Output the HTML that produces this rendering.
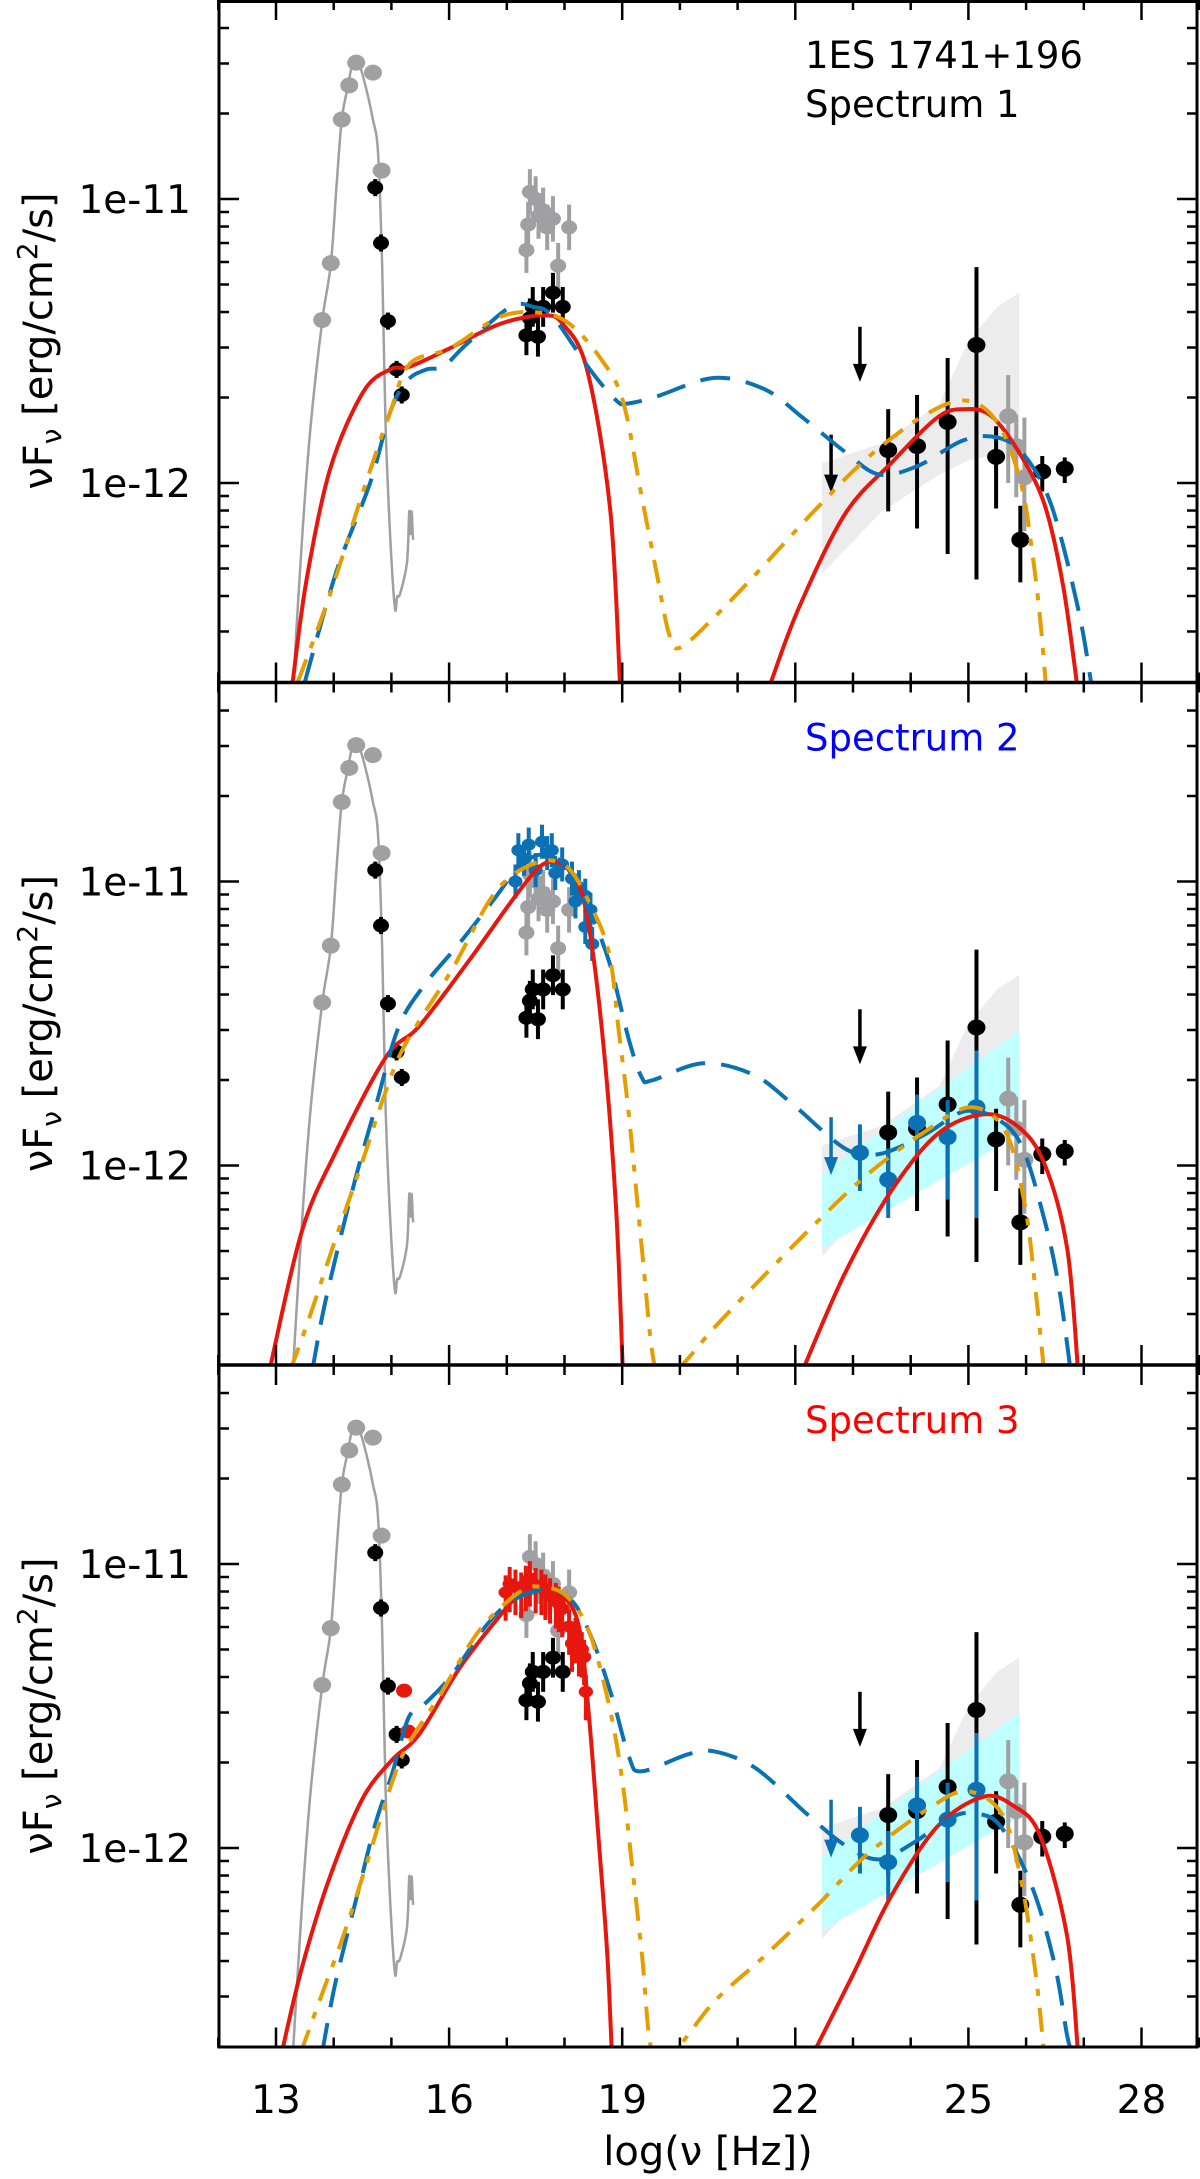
<!DOCTYPE html>
<html><head><meta charset="utf-8"><style>
html,body{margin:0;padding:0;background:#fff;}
svg{display:block;font-family:"DejaVu Sans","Liberation Sans",sans-serif;}
</style></head><body>
<svg id="chart" width="1200" height="2179" viewBox="0 0 1200 2179" xmlns="http://www.w3.org/2000/svg"></svg>
<script>
// ---- data (log nu, log nuFnu) ----
const xTicksMajor = [13,16,19,22,25,28];
const xTickLabels = ["13","16","19","22","25","28"];
const yTickMajor = [-11,-12];
const yTickLabels = ["1e-11","1e-12"];
const panelTitles = [["1ES 1741+196","Spectrum 1"],["Spectrum 2"],["Spectrum 3"]];
const titleColors = ["#000","#0000ff","#ff0000"];

const tmplV = [13.3,13.45,13.6,13.8,13.95,14.05,14.14,14.25,14.33,14.43,14.55,14.68,14.77,14.84,14.9,14.98,15.06,15.1,15.15,15.27,15.31,15.33,15.35,15.37,15.38];
const tmplL = [-12.7,-12.2,-11.8,-11.43,-11.23,-10.95,-10.72,-10.6,-10.52,-10.52,-10.6,-10.72,-10.84,-11.24,-11.8,-12.19,-12.44,-12.4,-12.39,-12.28,-12.1,-12.18,-12.1,-12.18,-12.2];

const optGrayV = [13.80,13.95,14.14,14.27,14.39,14.68,14.83];
const optGrayL = [-11.426,-11.226,-10.72,-10.60,-10.52,-10.555,-10.90];
const optBlackV = [14.72,14.82,14.94,15.09,15.18];
const optBlackL = [-10.96,-11.155,-11.43,-11.60,-11.69];

const xGrayV = [17.4,17.37,17.34,17.63,17.8,17.89,18.08,17.5,17.55,17.7];
const xGrayL = [-10.975,-11.09,-11.18,-11.04,-11.07,-11.235,-11.10,-11.0,-11.06,-11.1];
const xBlackV = [17.34,17.54,17.45,17.63,17.8,17.97,17.4];
const xBlackL = [-11.48,-11.485,-11.38,-11.38,-11.33,-11.38,-11.42];

const gamV = [23.61,24.11,24.64,25.14,25.48,25.9,26.28,26.67];
const gamL = [-11.884,-11.87,-11.785,-11.514,-11.908,-12.20,-11.96,-11.95];
const gamUp = [-11.74,-11.69,-11.56,-11.24,-11.80,-12.08,-11.905,-11.91];
const gamLo = [-12.10,-12.16,-12.25,-12.34,-12.09,-12.35,-12.03,-12.0];
const gamGrayV = [25.69,25.83,25.97];
const gamGrayL = [-11.765,-11.87,-11.98];
const gamGrayUp = [-11.62,-11.76,-11.77];
const gamGrayLo = [-12.0,-12.05,-12.17];
const ulV = [23.12,22.62];
const ulTop = [-11.45,-11.83];
const ulTip = [-11.63,-12.02];

const bandV = [22.46,23.5,24.5,25.0,25.5,25.88];
const bandUp = [-11.93,-11.86,-11.72,-11.5,-11.38,-11.33];
const bandLo = [-12.32,-12.1,-11.97,-11.92,-11.90,-11.88];
const cyanV = [22.46,25.88];
const cyanUp = [-12.03,-11.525];
const cyanLo = [-12.29,-11.89];

const bgV = [23.12,23.61,24.11,24.64,25.14];
const bgL = [-11.955,-12.05,-11.85,-11.90,-11.795];
const bgUp = [-11.855,-11.94,-11.75,-11.77,-11.595];
const bgLo = [-12.09,-12.185,-11.97,-12.12,-12.185];

const xBlueV = [17.2,17.38,17.61,17.78,17.96,18.13,18.25,18.36,18.45,17.15,17.5,17.84,18.19,18.36,18.48,17.3,17.7];
const xBlueL = [-10.89,-10.87,-10.86,-10.89,-10.94,-10.99,-11.02,-11.05,-11.10,-11.0,-10.96,-10.97,-11.07,-11.16,-11.22,-10.92,-10.9];

const xRedV = [16.98,17.15,17.33,17.50,17.67,17.85,17.96,18.08,18.19,18.25,18.34,18.37,18.13,17.05,17.4,17.75,17.25,17.6,17.9,18.3];
const xRedL = [-11.10,-11.08,-11.066,-11.074,-11.097,-11.127,-11.158,-11.22,-11.25,-11.296,-11.327,-11.45,-11.28,-11.07,-11.05,-11.11,-11.09,-11.08,-11.14,-11.3];
const optRedV = [15.22,15.29];
const optRedL = [-11.446,-11.59];

// models panel 1
const red1aV=[13.29,13.53,13.94,14.51,14.98,15.32,16.02,16.88,17.63,17.97,18.39,18.79,18.96];
const red1aL=[-12.70,-12.34,-11.95,-11.68,-11.60,-11.59,-11.525,-11.44,-11.41,-11.44,-11.60,-12.09,-12.70];
const red1bV=[21.58,22.06,22.86,23.66,24.46,24.91,25.37,25.84,26.31,26.64,26.89];
const red1bL=[-12.70,-12.44,-12.11,-11.93,-11.77,-11.74,-11.76,-11.88,-12.07,-12.36,-12.72];
const blue1V=[13.5,14.05,14.63,14.98,15.27,15.61,15.9,16.31,17.06,17.46,17.8,18.44,18.9,19.1,19.6,20.6,21.47,22.13,22.86,23.45,24.12,24.91,25.51,25.98,26.44,26.9,27.14];
const blue1L=[-12.70,-12.31,-12.0,-11.75,-11.64,-11.60,-11.59,-11.51,-11.38,-11.38,-11.415,-11.60,-11.71,-11.72,-11.695,-11.63,-11.67,-11.77,-11.89,-11.97,-11.94,-11.85,-11.84,-11.905,-12.08,-12.44,-12.72];
const orange1V=[13.38,13.94,14.51,14.98,15.32,16.02,16.88,17.58,18.09,18.62,19.01,19.34,19.6,19.81,20.0,20.61,21.41,22.32,23.26,24.25,24.97,25.51,25.91,26.11,26.24,26.35];
const orange1L=[-12.7,-12.39,-12.03,-11.75,-11.58,-11.525,-11.415,-11.40,-11.44,-11.56,-11.71,-12.05,-12.32,-12.53,-12.58,-12.47,-12.30,-12.10,-11.91,-11.76,-11.71,-11.79,-12.0,-12.25,-12.47,-12.73];
// panel 2
const red2aV=[12.91,13.45,14.03,14.9,15.48,16.34,17.21,17.67,18.08,18.37,18.65,18.89,19.01];
const red2aL=[-12.70,-12.23,-11.955,-11.62,-11.51,-11.28,-11.035,-10.935,-10.96,-11.10,-11.525,-12.14,-12.72];
const red2bV=[22.13,22.86,23.66,24.46,25.25,25.84,26.31,26.71,26.9];
const red2bL=[-12.72,-12.38,-12.09,-11.89,-11.82,-11.86,-11.99,-12.29,-12.72];
const blue2V=[13.63,13.86,14.32,14.73,15.13,15.59,16.17,16.75,17.21,17.61,18.02,18.42,18.77,19.12,19.34,19.52,20.4,21.27,21.93,22.86,23.45,24.25,24.91,25.44,25.91,26.31,26.57,26.77];
const blue2L=[-12.72,-12.475,-12.09,-11.79,-11.51,-11.36,-11.22,-11.07,-10.95,-10.905,-10.945,-11.10,-11.28,-11.56,-11.69,-11.70,-11.64,-11.68,-11.78,-11.94,-11.96,-11.89,-11.81,-11.83,-11.925,-12.185,-12.43,-12.72];
const orange2V=[13.25,13.57,14.03,14.49,14.9,15.25,16.05,16.81,17.5,18.02,18.42,18.77,18.94,19.12,19.34,19.58,19.94,20.6,21.4,22.32,23.26,24.25,25.04,25.64,25.98,26.17,26.31];
const orange2L=[-12.72,-12.54,-12.26,-11.99,-11.74,-11.57,-11.31,-11.035,-10.935,-10.945,-11.07,-11.25,-11.525,-11.83,-12.29,-12.72,-12.72,-12.57,-12.40,-12.21,-12.03,-11.88,-11.795,-11.88,-12.14,-12.45,-12.72];
// panel 3
const red3aV=[13.1,13.45,13.92,14.49,15.01,15.48,16.17,16.81,17.21,17.56,17.96,18.25,18.42,18.6,18.74,18.82];
const red3aL=[-12.72,-12.42,-12.11,-11.83,-11.69,-11.60,-11.37,-11.20,-11.11,-11.08,-11.11,-11.22,-11.525,-11.99,-12.37,-12.72];
const red3bV=[22.32,22.99,23.66,24.46,25.25,25.77,26.24,26.71,26.9];
const red3bL=[-12.72,-12.45,-12.17,-11.925,-11.82,-11.85,-11.955,-12.31,-12.72];
const blue3V=[13.8,14.03,14.44,14.73,15.01,15.3,15.59,16.05,16.63,17.09,17.67,18.13,18.48,18.82,19.12,19.34,20.14,20.6,21.32,22.2,22.86,23.45,24.06,24.72,25.18,25.58,26.11,26.5,26.71,26.8];
const blue3L=[-12.72,-12.475,-12.14,-11.91,-11.74,-11.54,-11.49,-11.39,-11.22,-11.13,-11.09,-11.13,-11.265,-11.465,-11.68,-11.73,-11.67,-11.66,-11.72,-11.88,-11.99,-12.04,-11.98,-11.89,-11.88,-11.93,-12.14,-12.415,-12.66,-12.72];
const orange3V=[13.43,13.75,14.2,14.61,14.96,15.25,15.83,16.52,17.21,17.56,18.02,18.42,18.77,19.0,19.17,19.34,19.52,19.88,20.6,21.47,22.39,23.26,24.32,24.97,25.58,25.91,26.17,26.31];
const orange3L=[-12.72,-12.54,-12.29,-12.03,-11.80,-11.65,-11.465,-11.235,-11.10,-11.08,-11.11,-11.235,-11.495,-11.76,-12.06,-12.37,-12.72,-12.72,-12.54,-12.38,-12.20,-12.02,-11.86,-11.80,-11.88,-12.11,-12.45,-12.72];

// ---- geometry ----
const L=219, R=1197, PH=682.5;
const tops=[0,682.5,1365];
function X(v){return 276+(v-13)*57.7;}
function Y(l,p){return tops[p]+199-(l+11)*284;}
const NS="http://www.w3.org/2000/svg";
const svg=document.getElementById('chart');
function mk(tag,attrs,parent){const e=document.createElementNS(NS,tag);for(const k in attrs)e.setAttribute(k,attrs[k]);(parent||svg).appendChild(e);return e;}
function smooth(pts){
  let d="M"+pts[0][0].toFixed(1)+","+pts[0][1].toFixed(1);
  for(let i=0;i<pts.length-1;i++){
    const p0=pts[Math.max(0,i-1)],p1=pts[i],p2=pts[i+1],p3=pts[Math.min(pts.length-1,i+2)];
    const c1=[p1[0]+(p2[0]-p0[0])/6,p1[1]+(p2[1]-p0[1])/6];
    const c2=[p2[0]-(p3[0]-p1[0])/6,p2[1]-(p3[1]-p1[1])/6];
    d+="C"+c1[0].toFixed(1)+","+c1[1].toFixed(1)+" "+c2[0].toFixed(1)+","+c2[1].toFixed(1)+" "+p2[0].toFixed(1)+","+p2[1].toFixed(1);
  }
  return d;
}
function curve(vs,ls,p,style,g,name){
  const pts=vs.map((v,i)=>[X(v),Y(ls[i],p)]);
  const e=mk('path',Object.assign({d:smooth(pts),fill:'none'},style),g);
  
  
}
function band(vs,up,lo,p,fill,g,name){
  let d="M"+vs.map((v,i)=>X(v)+","+Y(up[i],p)).join("L");
  for(let i=vs.length-1;i>=0;i--)d+="L"+X(vs[i])+","+Y(lo[i],p);
  const e=mk('path',{d:d+"Z",fill:fill},g);
  
  
}
function pt(v,l,p,col,r,g,name,up,lo,ex){
  if(up!==undefined){
    const e=mk('line',{x1:X(v),x2:X(v),y1:Y(up,p),y2:Y(lo,p),stroke:col,'stroke-width':4},g);
    
    
  }
  if(ex){const h=mk('line',{x1:X(v)-ex,x2:X(v)+ex,y1:Y(l,p),y2:Y(l,p),stroke:col,'stroke-width':4},g);
    
    }
  const c=mk('ellipse',{cx:X(v),cy:Y(l,p),rx:r+1,ry:r,fill:col},g);
  
  
}
function ul(v,t,b,p,col,g){
  const x=X(v),y1=Y(t,p),y2=Y(b,p);
  const a=mk('line',{x1:x,x2:x,y1:y1,y2:y2-10,stroke:col,'stroke-width':3.5},g);
  
  
  const h=mk('path',{d:`M${x-7},${y2-14}L${x+7},${y2-14}L${x},${y2+4}Z`,fill:col},g);
  
  
}

const RED={stroke:'#e8170e','stroke-width':4};
const BLUE={stroke:'#0a72b4','stroke-width':4,'stroke-dasharray':'30,16'};
const ORANGE={stroke:'#e69d00','stroke-width':4,'stroke-dasharray':'24,12,7,12'};
const models=[
  {ra:[red1aV,red1aL],rb:[red1bV,red1bL],b:[blue1V,blue1L],o:[orange1V,orange1L]},
  {ra:[red2aV,red2aL],rb:[red2bV,red2bL],b:[blue2V,blue2L],o:[orange2V,orange2L]},
  {ra:[red3aV,red3aL],rb:[red3bV,red3bL],b:[blue3V,blue3L],o:[orange3V,orange3L]}
];

for(let p=0;p<3;p++){
  const clip=mk('clipPath',{id:'c'+p});
  mk('rect',{x:L,y:tops[p],width:R-L,height:PH},clip);
  const g=mk('g',{'clip-path':'url(#c'+p+')'});
  
  
  band(bandV,bandUp,bandLo,p,'#ececec',g,'fermi-butterfly-gray');
  if(p>0) band(cyanV,cyanUp,cyanLo,p,'#bfffff',g,'fermi-butterfly-cyan');
  curve(tmplV,tmplL,p,{stroke:'#a0a0a3','stroke-width':2.5},g,'host-galaxy-template');
  optGrayV.forEach((v,i)=>pt(v,optGrayL[i],p,'#a0a0a3',8,g,'optical-archival-point'));
  optBlackV.forEach((v,i)=>pt(v,optBlackL[i],p,'#000',7,g,'optical-point',optBlackL[i]+0.03,optBlackL[i]-0.03));
  xGrayV.forEach((v,i)=>pt(v,xGrayL[i],p,'#a0a0a3',7,g,'xray-archival-point',xGrayL[i]+0.08,xGrayL[i]-0.08));
  xBlackV.forEach((v,i)=>pt(v,xBlackL[i],p,'#000',7,g,'xray-point',xBlackL[i]+0.07,xBlackL[i]-0.07));
  if(p===1) xBlueV.forEach((v,i)=>pt(v,xBlueL[i],p,'#0a72b4',6,g,'xray-spectrum2-point',xBlueL[i]+0.06,xBlueL[i]-0.06,6));
  if(p===2){
    xRedV.forEach((v,i)=>pt(v,xRedL[i],p,'#e8170e',6,g,'xray-spectrum3-point',xRedL[i]+0.06,xRedL[i]-0.1,7));
    optRedV.forEach((v,i)=>pt(v,optRedL[i],p,'#e8170e',7,g,'uv-spectrum3-point'));
  }
  gamV.forEach((v,i)=>pt(v,gamL[i],p,'#000',8,g,'gamma-point',gamUp[i],gamLo[i]));
  gamGrayV.forEach((v,i)=>pt(v,gamGrayL[i],p,'#a0a0a3',8,g,'gamma-archival-point',gamGrayUp[i],gamGrayLo[i]));
  ul(ulV[0],ulTop[0],ulTip[0],p,'#000',g);
  ul(ulV[1],ulTop[1],ulTip[1],p,p>0?'#0a72b4':'#000',g);
  if(p>0) bgV.forEach((v,i)=>pt(v,bgL[i],p,'#0a72b4',8,g,'gamma-spectrum-point',bgUp[i],bgLo[i]));
  const m=models[p];
  curve(m.ra[0],m.ra[1],p,RED,g,'model-red-synchrotron');
  curve(m.rb[0],m.rb[1],p,RED,g,'model-red-compton');
  curve(m.b[0],m.b[1],p,BLUE,g,'model-blue-dashed');
  curve(m.o[0],m.o[1],p,ORANGE,g,'model-orange-dashdot');

  // ticks
  for(let v=12;v<=29;v++){
    const maj=xTicksMajor.includes(v), len=maj?20:10;
    const a=mk('line',{x1:X(v),x2:X(v),y1:tops[p],y2:tops[p]+len,stroke:'#000','stroke-width':2.5});
     
    const b=mk('line',{x1:X(v),x2:X(v),y1:tops[p]+PH,y2:tops[p]+PH-len,stroke:'#000','stroke-width':2.5});
     
  }
  for(let d=-13;d<=-11;d++){
    for(let k=1;k<=9;k++){
      const l=d+Math.log10(k), y=Y(l,p);
      if(y<tops[p]+1||y>tops[p]+PH-1)continue;
      const len=k===1?20:10;
      const a=mk('line',{x1:L,x2:L+len,y1:y,y2:y,stroke:'#000','stroke-width':2.5});
       
      const b=mk('line',{x1:R,x2:R-len,y1:y,y2:y,stroke:'#000','stroke-width':2.5});
       
    }
  }
  yTickMajor.forEach((l,i)=>{
    const t=mk('text',{x:191,y:Y(l,p)+14,'text-anchor':'end','font-size':39,fill:'#000'});
    t.textContent=yTickLabels[i];
     
  });
  const yl=mk('text',{x:0,y:0,'font-size':40,'text-anchor':'middle',transform:`translate(52,${tops[p]+341}) rotate(-90)`});
  yl.innerHTML='νF<tspan font-size="28" dy="9">ν</tspan><tspan dy="-9"> [erg/cm</tspan><tspan font-size="28" dy="-15">2</tspan><tspan dy="15">/s]</tspan>';
   
  panelTitles[p].forEach((s,i)=>{
    const t=mk('text',{x:805,y:tops[p]+68+i*49,'font-size':37,fill:titleColors[p]});
    t.textContent=s;
     
  });
}
// frame
const fr=mk('rect',{x:L,y:1.5,width:R-L,height:2047-1.5,fill:'none',stroke:'#000','stroke-width':3});
 
[682.5,1365].forEach(y=>{const s=mk('line',{x1:L,x2:R,y1:y,y2:y,stroke:'#000','stroke-width':3.5});
   });
xTicksMajor.forEach((v,i)=>{
  const t=mk('text',{x:X(v),y:2113,'text-anchor':'middle','font-size':39});
  t.textContent=xTickLabels[i];
   
});
const xl=mk('text',{x:708,y:2165,'text-anchor':'middle','font-size':40});
xl.textContent='log(ν [Hz])';
 
</script>
</body></html>
